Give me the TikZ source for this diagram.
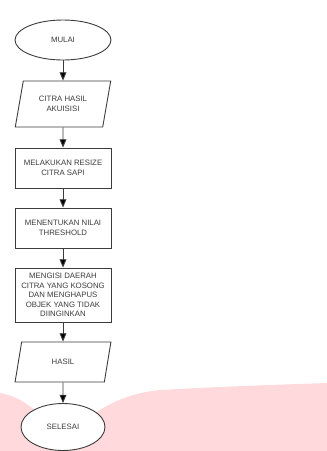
\documentclass[tikz,border=0pt]{standalone}
\usepackage{fontspec}
\setmainfont{Liberation Sans}
\usetikzlibrary{arrows,shapes.geometric}
\definecolor{blobpink}{RGB}{255,217,220}
\definecolor{linegray}{RGB}{60,60,60}

\begin{document}
\begin{tikzpicture}[x=1pt,y=-1pt]
  \tikzstyle{every node}=[font=\fontsize{7.8}{9.4}\selectfont,text=linegray,align=center]
  \tikzstyle{terminal}=[draw=linegray,line width=0.9pt,ellipse,fill=white,inner sep=0pt]
  \tikzstyle{io}=[draw=linegray,line width=0.9pt,trapezium,trapezium left angle=72,trapezium right angle=108,
    trapezium stretches=true,fill=white,inner sep=0pt,minimum width=96pt]
  \tikzstyle{process}=[draw=linegray,line width=0.9pt,rectangle,fill=white,inner sep=0pt,minimum width=96pt]
  \tikzstyle{flow}=[draw=linegray,line width=0.9pt,-triangle 45]
  \useasboundingbox (0,0) rectangle (327,451);
  % background blob
  \fill[blobpink] (0,393) .. controls (35,399) and (48,430) .. (63,430)
    .. controls (82,430) and (100,396) .. (160,390)
    .. controls (230,386) and (300,384) .. (327,383)
    -- (327,451) -- (0,451) -- cycle;
  \node[terminal,minimum width=96pt,minimum height=40pt] (mulai) at (63,40) {MULAI};
  \node[io,minimum height=46pt] (citra) at (63,104) {CITRA HASIL\\AKUISISI};
  \node[process,minimum height=40pt] (resize) at (63,168) {MELAKUKAN RESIZE\\CITRA SAPI};
  \node[process,minimum height=40pt] (threshold) at (63,228) {MENENTUKAN NILAI\\THRESHOLD};
  \node[process,minimum height=54pt] (isi) at (63,295) {MENGISI DAERAH\\CITRA YANG KOSONG\\DAN MENGHAPUS\\OBJEK YANG TIDAK\\DIINGINKAN};
  \node[io,minimum height=40pt] (hasil) at (63,362) {HASIL};
  \node[terminal,minimum width=84pt,minimum height=47pt] (selesai) at (63,427) {SELESAI};
  \path[flow]
    (mulai) edge (citra)
    (citra) edge (resize)
    (resize) edge (threshold)
    (threshold) edge (isi)
    (isi) edge (hasil)
    (hasil) edge (selesai);
\end{tikzpicture}
\end{document}
